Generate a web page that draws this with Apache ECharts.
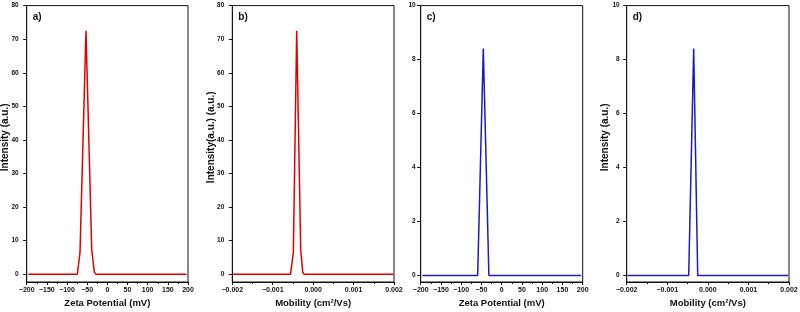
<!DOCTYPE html>
<html><head><meta charset="utf-8">
<script src="https://cdn.jsdelivr.net/npm/echarts@6/dist/echarts.min.js"></script>
<style>html,body{margin:0;padding:0;background:#fff}#c{width:800px;height:312px}</style>
</head><body><div id="c"></div>
<script>
// ---- data ----
const zetaA  = [-196, -74.5, -67.8, -53, -38.8, -32.4, -28, 196];
const intenA = [0, 0, 6.5, 72.5, 7.5, 0.6, 0, 0];
const mobB   = [-0.00198, -0.00056, -0.00049, -0.000407, -0.000308, -0.000258, -0.000225, 0.00198];
const intenB = [0, 0, 6.5, 72.5, 7.5, 0.6, 0, 0];
const zetaC  = [-196, -59.3, -45.4, -31.6, 196];
const intenC = [0, 0, 8.41, 0, 0];
const mobD   = [-0.00198, -0.000472, -0.000349, -0.00025, 0.00198];
const intenD = [0, 0, 8.41, 0, 0];
const yTicksAB = [0, 10, 20, 30, 40, 50, 60, 70, 80];
const yTicksCD = [0, 2, 4, 6, 8, 10];
const panelLabels = ['a)', 'b)', 'c)', 'd)'];
const xTitles = ['Zeta Potential (mV)', 'Mobility (cm\u00B2/Vs)', 'Zeta Potential (mV)', 'Mobility (cm\u00B2/Vs)'];
const yTitles = ['Intensity (a.u.)', 'Intensity(a.u.) (a.u.)', '', 'Intensity (a.u.)'];

const RED = '#e00000', BLUE = '#1c1cb8';
const FONT = 'Liberation Sans';
const pair = (xs, ys) => xs.map((x, i) => [x, ys[i]]);
const minus = s => s.replace('-', '\u2212');

const grids = [
  {left: 26.7, width: 161.3},
  {left: 232.3, width: 161.7},
  {left: 420.7, width: 162},
  {left: 626.7, width: 162.3}
].map(g => ({left: g.left, width: g.width, top: 5.6, height: 276.4, show: true,
  borderColor: '#111', borderWidth: 1, containLabel: false, outerBoundsMode: 'none'}));

function xAxis(i, isZeta) {
  return {
    type: 'value', gridIndex: i,
    min: isZeta ? -200 : -0.002, max: isZeta ? 200 : 0.002,
    interval: isZeta ? 50 : 0.001,
    name: xTitles[i], nameLocation: 'middle', nameGap: 16, nameMoveOverlap: false,
    nameTextStyle: {fontFamily: FONT, fontWeight: 'bold', fontSize: 9.5, color: '#111'},
    axisLine: {show: true, onZero: false, lineStyle: {color: '#111', width: 1}},
    axisTick: {show: true, inside: false, length: 3, lineStyle: {color: '#111'}},
    minorTick: {show: true, splitNumber: 2, length: 2, lineStyle: {color: '#111'}},
    splitLine: {show: false}, minorSplitLine: {show: false},
    axisLabel: {fontFamily: FONT, fontWeight: 'bold', fontSize: 7, color: '#111', margin: 5,
      formatter: v => isZeta ? minus(String(Math.round(v))) : minus((Math.round(v * 1e6) / 1e6).toFixed(3))}
  };
}
function yAxis(i, ticks, min, max, margin) {
  return {
    type: 'value', gridIndex: i, min: min, max: max,
    name: yTitles[i], nameLocation: 'middle', nameGap: 16, nameMoveOverlap: false,
    nameTextStyle: {fontFamily: FONT, fontWeight: 'bold', fontSize: 10, color: '#111', padding: [0, 0, 0, 13]},
    axisLine: {show: true, onZero: false, lineStyle: {color: '#111', width: 1}},
    axisTick: {show: true, length: 3.5, customValues: ticks, lineStyle: {color: '#111'}},
    splitLine: {show: false},
    axisLabel: {fontFamily: FONT, fontWeight: 'bold', fontSize: 6.5, color: '#111', margin: margin,
      customValues: ticks, formatter: v => String(v)}
  };
}

const option = {
  animation: false,
  backgroundColor: '#fff',
  grid: grids,
  xAxis: [xAxis(0, true), xAxis(1, false), xAxis(2, true), xAxis(3, false)],
  yAxis: [yAxis(0, yTicksAB, -2.3, 80, 8), yAxis(1, yTicksAB, -2.3, 80, 8),
          yAxis(2, yTicksCD, -0.24, 10, 5), yAxis(3, yTicksCD, -0.24, 10, 7)],
  series: [
    {type: 'line', xAxisIndex: 0, yAxisIndex: 0, data: pair(zetaA, intenA), color: RED},
    {type: 'line', xAxisIndex: 1, yAxisIndex: 1, data: pair(mobB, intenB), color: RED},
    {type: 'line', xAxisIndex: 2, yAxisIndex: 2, data: pair(zetaC, intenC), color: BLUE},
    {type: 'line', xAxisIndex: 3, yAxisIndex: 3, data: pair(mobD, intenD), color: BLUE}
  ].map(s => Object.assign(s, {showSymbol: false, symbol: 'none', lineStyle: {width: 1.5, color: s.color}, z: 3})),
  graphic: panelLabels.map((t, i) => ({
    type: 'text', left: grids[i].left + 6, top: 12,
    style: {text: t, fontFamily: FONT, fontWeight: 'bold', fontSize: 10, fill: '#111'}
  }))
};
const chart = echarts.init(document.getElementById('c'), null, {renderer: 'canvas'});
chart.setOption(option);
</script></body></html>
